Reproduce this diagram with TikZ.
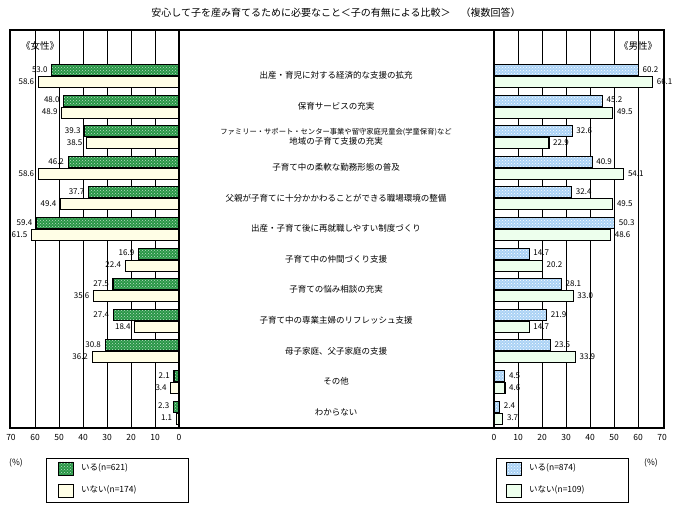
\documentclass[tikz,border=0pt]{standalone}
\usepackage{fontspec}
\setmainfont{Noto Sans CJK JP}
\usetikzlibrary{patterns}
\definecolor{fbar}{RGB}{40,150,70}
\definecolor{mbar}{RGB}{170,210,245}
\tikzset{gbar/.style={draw, line width=1.1pt, fill=fbar, pattern color=white},
	wbarl/.style={draw, line width=1.1pt, fill=yellow!10},
	bbar/.style={draw, line width=1.1pt, fill=mbar},
	wbarr/.style={draw, line width=1.1pt, fill=green!7},
	val/.style={font=\fontsize{8}{9}\selectfont, inner sep=1pt},
	cat/.style={font=\fontsize{8.5}{10}\selectfont, align=center, inner sep=1pt},
	tick/.style={font=\fontsize{8.5}{10}\selectfont, inner sep=1pt}}

\begin{document}
\begin{tikzpicture}
    [x=1pt, y=-1pt]
    \useasboundingbox (0,0) rectangle (678,510);
    % title
    \node[font=\fontsize{10}{12}\selectfont] (title) at (336,13){安心して子を産み育てるために必要なこと＜子の有無による比較＞　（複数回答）};
    % grid
    \foreach \k in {1,...,6}{
        \draw[thin] (179-\k*24,30) -- (179-\k*24,428);
        \draw[thin] (494+\k*24,30) -- (494+\k*24,428);
    }
    \draw[line width=1.2pt] (10,30) rectangle (664,428);
    \draw[line width=1.2pt] (179,30) -- (179,428);
    \draw[line width=1.2pt] (494,30) -- (494,428);
    \node[cat, font=\fontsize{9.5}{11}\selectfont] (fem) at (40,46){《女性》};
    \node[cat, font=\fontsize{9.5}{11}\selectfont] (mal) at (638,46){《男性》};
    % bars
    \foreach \i/\fa/\fb/\ma/\mb/\txt in {
        1/53.0/58.6/60.2/66.1/{出産・育児に対する経済的な支援の拡充},
        2/48.0/48.9/45.2/49.5/{保育サービスの充実},
        3/39.3/38.5/32.6/22.9/{\fontsize{7.3}{9}\selectfont ファミリー・サポート・センター事業や留守家庭児童会(学童保育)など\\地域の子育て支援の充実},
        4/46.2/58.6/40.9/54.1/{子育て中の柔軟な勤務形態の普及},
        5/37.7/49.4/32.4/49.5/{父親が子育てに十分かかわることができる職場環境の整備},
        6/59.4/61.5/50.3/48.6/{出産・子育て後に再就職しやすい制度づくり},
        7/16.9/22.4/14.7/20.2/{子育て中の仲間づくり支援},
        8/27.5/35.6/28.1/33.0/{子育ての悩み相談の充実},
        9/27.4/18.4/21.9/14.7/{子育て中の専業主婦のリフレッシュ支援},
        10/30.8/36.2/23.5/33.9/{母子家庭、父子家庭の支援},
        11/2.1/3.4/4.5/4.6/{その他},
        12/2.3/1.1/2.4/3.7/{わからない}}{
        \pgfmathsetmacro{\yc}{75.5+(\i-1)*30.6}
        \draw[gbar] (179-\fa*2.4,\yc-11) rectangle (179,\yc);
        \fill[pattern=crosshatch dots, pattern color=white!70!fbar] (179-\fa*2.4,\yc-11) rectangle (179,\yc);
        \draw[gbar, fill=none] (179-\fa*2.4,\yc-11) rectangle (179,\yc);
        \draw[wbarl] (179-\fb*2.4,\yc+1) rectangle (179,\yc+12);
        \draw[bbar] (494,\yc-11) rectangle (494+\ma*2.4,\yc);
        \fill[pattern=crosshatch dots, pattern color=white] (494,\yc-11) rectangle (494+\ma*2.4,\yc);
        \draw[bbar, fill=none] (494,\yc-11) rectangle (494+\ma*2.4,\yc);
        \draw[wbarr] (494,\yc+1) rectangle (494+\mb*2.4,\yc+12);
        \node[val, anchor=east] (fa\i) at (176-\fa*2.4,\yc-6){\fa};
        \node[val, anchor=east] (fb\i) at (176-\fb*2.4,\yc+6){\fb};
        \node[val, anchor=west] (ma\i) at (497+\ma*2.4,\yc-6){\ma};
        \node[val, anchor=west] (mb\i) at (497+\mb*2.4,\yc+6){\mb};
        \node[cat] (c\i) at (336,\yc){\txt};
    }
    % axes
    \foreach \k in {0,...,7}{
        \pgfmathtruncatemacro{\v}{\k*10}
        \node[tick] (lt\k) at (179-\k*24,437){\v};
        \node[tick] (rt\k) at (494+\k*24,437){\v};
    }
    \node[tick] (pl) at (16,463){(\%)};
    \node[tick] (pr) at (651,463){(\%)};
    % legends
    \draw (46,458) rectangle (188,502);
    \draw (496,458) rectangle (628,502);
    \draw[gbar, line width=0.8pt] (58,462) rectangle (73,475);
    \fill[pattern=crosshatch dots, pattern color=white!70!fbar] (58,462) rectangle (73,475);
    \draw[line width=0.8pt] (58,462) rectangle (73,475);
    \draw[wbarl, line width=0.8pt] (58,484) rectangle (73,497);
    \node[tick, anchor=west] (lg1) at (80,468){いる(n=621)};
    \node[tick, anchor=west] (lg2) at (80,490){いない(n=174)};
    \draw[bbar, line width=0.8pt] (506,462) rectangle (521,475);
    \fill[pattern=crosshatch dots, pattern color=white] (506,462) rectangle (521,475);
    \draw[line width=0.8pt] (506,462) rectangle (521,475);
    \draw[wbarr, line width=0.8pt] (506,484) rectangle (521,497);
    \node[tick, anchor=west] (lg3) at (528,468){いる(n=874)};
    \node[tick, anchor=west] (lg4) at (528,490){いない(n=109)};
\end{tikzpicture}
\end{document}
